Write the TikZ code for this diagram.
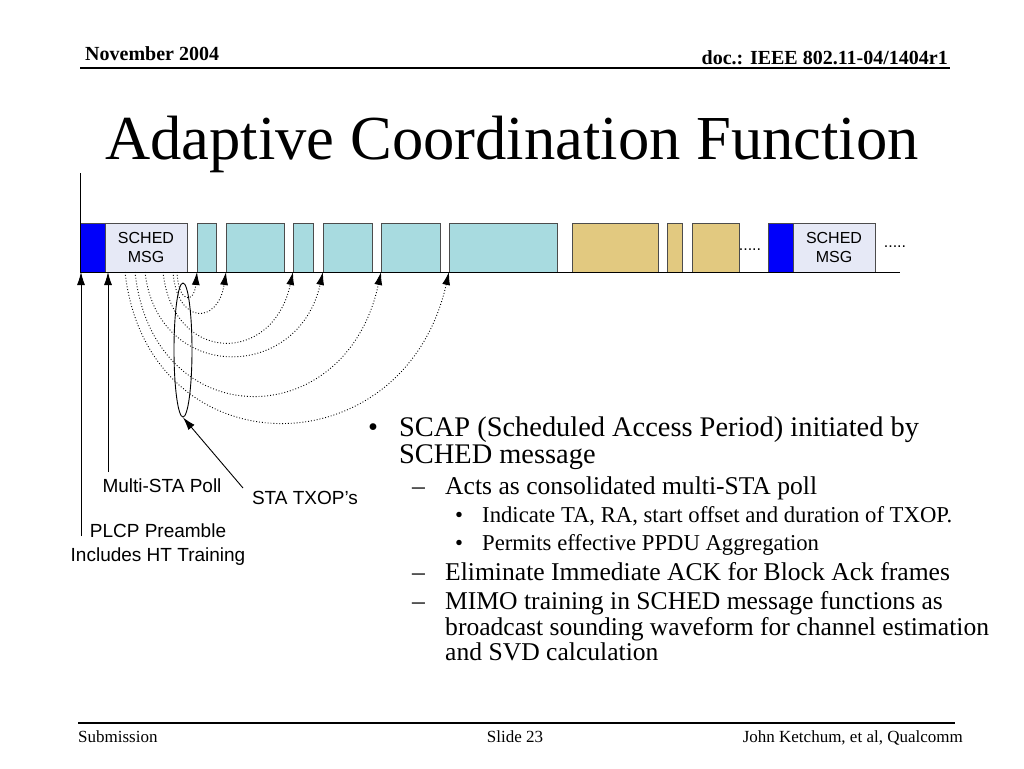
\documentclass[tikz,border=0pt]{standalone}
\usepackage{fontspec}
\setmainfont{Liberation Serif}
\newfontfamily\arialfont{Liberation Sans}
\usetikzlibrary{arrows.meta,calc,shapes.geometric}

\definecolor{preblue}{RGB}{0,0,250}
\definecolor{schedfill}{RGB}{230,233,246}
\definecolor{txopteal}{RGB}{168,219,224}
\definecolor{edcatan}{RGB}{226,201,128}

\begin{document}
\begin{tikzpicture}[x=1pt,y=-1pt,
	slot/.style={draw=black!70,line width=0.8pt,inner sep=0pt,outer sep=0pt,minimum height=49pt,anchor=south west},
	schedtext/.style={align=center,font=\arialfont\fontsize{16}{18.5}\selectfont},
	figlabel/.style={inner sep=0pt,font=\arialfont\fontsize{19}{24}\selectfont},
	pollarc/.style={dotted,line width=0.9pt,-{Latex[length=13pt,width=8pt]}},
	pointer/.style={line width=0.9pt,-{Latex[length=13pt,width=8pt]}},
	lvlone/.style={inner sep=0pt,anchor=base west,font=\fontsize{28.4}{30}\selectfont},
	lvltwo/.style={inner sep=0pt,anchor=base west,font=\fontsize{25.6}{27}\selectfont},
	lvlthree/.style={inner sep=0pt,anchor=base west,font=\fontsize{22.7}{24}\selectfont},
	foot/.style={inner sep=0pt,font=\fontsize{17}{20}\selectfont}]
\useasboundingbox (0,0) rectangle (1024,768);

% header and title
\node[inner sep=0pt,anchor=base west,font=\fontsize{20}{24}\selectfont\bfseries] (date) at (85,60) {November 2004};
\node[inner sep=0pt,anchor=base east,font=\fontsize{20}{24}\selectfont\bfseries] (docno) at (948,64) {doc.: IEEE 802.11-04/1404r1};
\draw[line width=1.5pt] (80,68)--(950,68);
\node[inner sep=0pt,anchor=base,font=\fontsize{62.6}{70}\selectfont] (title) at (512,159) {Adaptive Coordination Function};

% frame sequence
\node[slot,fill=preblue,minimum width=25pt] (pre1) at (80,272) {};
\node[slot,fill=schedfill,minimum width=82pt,schedtext] (sched1) at (105,272) {SCHED\\MSG};
\foreach \n/\x/\w in {1/197/19,2/226/58,3/293/20,4/323/49,5/381/59,6/449/108}
{
	\node[slot,fill=txopteal,minimum width=\w pt] (txop\n) at (\x,272) {};
}
\foreach \n/\x/\w in {1/572/86,2/667/15,3/692/47}
{
	\node[slot,fill=edcatan,minimum width=\w pt] (edca\n) at (\x,272) {};
}
\node[inner sep=0pt,anchor=base,font=\arialfont\fontsize{16}{18}\selectfont] (gap1) at (750,250) {.....};
\node[slot,fill=preblue,minimum width=25pt] (pre2) at (768,272) {};
\node[slot,fill=schedfill,minimum width=82pt,schedtext] (sched2) at (793,272) {SCHED\\MSG};
\node[inner sep=0pt,anchor=base,font=\arialfont\fontsize{16}{18}\selectfont] (gap2) at (895,247) {.....};

\coordinate (axistop) at (80,173);
\coordinate (axisend) at (900,272);
\draw[line width=0.8pt] (axistop)--(pre1.south west)--(axisend);

% poll to txop arcs
\foreach \n/\s/\dep/\lean in {1/177/32/3,2/173/53/8,3/163/93/20,4/145/111/25,5/135/164/35,6/125/200/45}
{
	\coordinate (poll\n) at (\s,272);
	\draw[pollarc] (poll\n) .. controls ($(poll\n)+(\lean/2,\dep)$) and ($(txop\n.south west)+(-\lean,\dep)$) .. (txop\n.south west);
}
\node[draw,ellipse,line width=0.9pt,minimum width=18pt,minimum height=134pt,inner sep=0pt] (txopring) at (183,350) {};

% labels
\node[figlabel] (polllabel) at (162,486) {Multi-STA Poll};
\node[figlabel] (txoplabel) at (305,498) {STA TXOP’s};
\node[figlabel,align=center] (plcplabel) at (158,545) {PLCP Preamble\\Includes HT Training};
\coordinate (plcpfoot) at (81,536);
\coordinate (pollfoot) at (108,472);
\coordinate (txopfoot) at (243,488);
\draw[pointer] (plcpfoot)--(plcpfoot |- pre1.south);
\draw[pointer] (pollfoot)--(pollfoot |- sched1.south);
\draw[pointer] (txopfoot)--(txopring.south);

% bullets
\node[lvlone,anchor=base] (markone) at (373,436) {•};
\node[lvlone] (scap1) at (399,436) {SCAP (Scheduled Access Period) initiated by};
\node[lvlone] (scap2) at (399,463) {SCHED message};
\foreach \n/\y in {1/494,2/580,3/609}
{
	\node[lvltwo] (dash\n) at (412,\y) {–};
}
\foreach \n/\y/\xtext in {1/494/{Acts as consolidated multi-STA poll},2/580/{Eliminate Immediate ACK for Block Ack frames},3/609/{MIMO training in SCHED message functions as},4/635/{broadcast sounding waveform for channel estimation},5/660/{and SVD calculation}}
{
	\node[lvltwo] (sub\n) at (445,\y) {\xtext};
}
\foreach \n/\y/\xtext in {1/522/{Indicate TA, RA, start offset and duration of TXOP.},2/550/{Permits effective PPDU Aggregation}}
{
	\node[lvlthree,anchor=base] (dot\n) at (459,\y) {•};
	\node[lvlthree] (subsub\n) at (482,\y) {\xtext};
}

% footer
\draw[line width=1.5pt] (78,723)--(955,723);
\node[foot,anchor=base west] (submission) at (78,742) {Submission};
\node[foot,anchor=base] (slideno) at (515,742) {Slide 23};
\node[foot,anchor=base east] (authors) at (963,742) {John Ketchum, et al, Qualcomm};

\end{tikzpicture}
\end{document}
